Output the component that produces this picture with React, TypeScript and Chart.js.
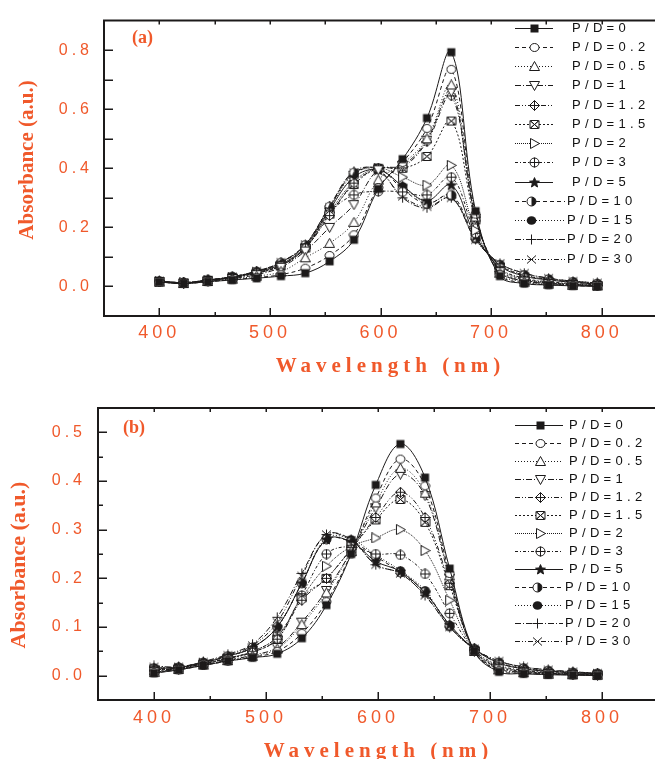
import React, { useEffect, useRef } from 'react';
import { Chart, registerables } from 'chart.js';

Chart.register(...registerables);

// ---------------- data ----------------
const WAVELENGTHS = [400, 422, 444, 466, 488, 510, 532, 554, 576, 598, 620, 642, 664, 686, 708, 730, 752, 774, 796];

const SERIES_LABELS = ['P/D=0', 'P/D=0.2', 'P/D=0.5', 'P/D=1', 'P/D=1.2', 'P/D=1.5', 'P/D=2', 'P/D=3', 'P/D=5', 'P/D=10', 'P/D=15', 'P/D=20', 'P/D=30'];

const X_TICK_LABELS = ['400', '500', '600', '700', '800'];
const A_Y_TICK_LABELS = ['0.0', '0.2', '0.4', '0.6', '0.8'];
const B_Y_TICK_LABELS = ['0.0', '0.1', '0.2', '0.3', '0.4', '0.5'];

// panel (a)
const A_PD0 = [0.015, 0.010, 0.016, 0.022, 0.028, 0.035, 0.045, 0.085, 0.158, 0.330, 0.431, 0.570, 0.793, 0.255, 0.035, 0.010, 0.005, 0.002, 0.000];
const A_PD0_2 = [0.015, 0.010, 0.016, 0.023, 0.030, 0.040, 0.062, 0.105, 0.175, 0.335, 0.420, 0.535, 0.735, 0.245, 0.040, 0.012, 0.006, 0.003, 0.001];
const A_PD0_5 = [0.015, 0.010, 0.017, 0.025, 0.035, 0.050, 0.097, 0.146, 0.217, 0.360, 0.415, 0.500, 0.682, 0.235, 0.045, 0.015, 0.008, 0.004, 0.002];
const A_PD1 = [0.016, 0.011, 0.018, 0.027, 0.040, 0.065, 0.120, 0.200, 0.277, 0.395, 0.410, 0.495, 0.660, 0.230, 0.050, 0.018, 0.010, 0.005, 0.002];
const A_PD1_2 = [0.016, 0.011, 0.020, 0.030, 0.045, 0.070, 0.130, 0.240, 0.350, 0.400, 0.405, 0.490, 0.645, 0.235, 0.050, 0.020, 0.011, 0.006, 0.003];
const A_PD1_5 = [0.016, 0.011, 0.020, 0.030, 0.045, 0.070, 0.130, 0.245, 0.345, 0.400, 0.400, 0.440, 0.560, 0.225, 0.055, 0.022, 0.012, 0.007, 0.003];
const A_PD2 = [0.017, 0.012, 0.020, 0.030, 0.047, 0.072, 0.130, 0.250, 0.355, 0.400, 0.370, 0.343, 0.410, 0.190, 0.060, 0.025, 0.014, 0.008, 0.004];
const A_PD3 = [0.017, 0.012, 0.020, 0.030, 0.047, 0.072, 0.130, 0.250, 0.310, 0.322, 0.320, 0.310, 0.370, 0.180, 0.062, 0.028, 0.016, 0.010, 0.005];
const A_PD5 = [0.018, 0.012, 0.021, 0.032, 0.050, 0.075, 0.135, 0.260, 0.370, 0.395, 0.340, 0.290, 0.343, 0.170, 0.070, 0.035, 0.022, 0.014, 0.008];
const A_PD10 = [0.018, 0.013, 0.022, 0.033, 0.050, 0.080, 0.140, 0.270, 0.385, 0.400, 0.330, 0.280, 0.310, 0.165, 0.072, 0.038, 0.024, 0.015, 0.009];
const A_PD15 = [0.018, 0.013, 0.022, 0.033, 0.050, 0.080, 0.140, 0.265, 0.380, 0.400, 0.339, 0.283, 0.305, 0.160, 0.075, 0.040, 0.025, 0.016, 0.010];
const A_PD20 = [0.019, 0.013, 0.022, 0.033, 0.052, 0.082, 0.142, 0.272, 0.390, 0.395, 0.300, 0.266, 0.300, 0.160, 0.078, 0.045, 0.028, 0.018, 0.012];
const A_PD30 = [0.019, 0.013, 0.022, 0.033, 0.052, 0.082, 0.142, 0.268, 0.385, 0.390, 0.305, 0.270, 0.300, 0.158, 0.078, 0.045, 0.028, 0.018, 0.012];

// panel (b)
const B_PD0 = [0.005, 0.012, 0.021, 0.030, 0.037, 0.045, 0.077, 0.145, 0.250, 0.392, 0.476, 0.407, 0.220, 0.050, 0.008, 0.004, 0.002, 0.001, 0.000];
const B_PD0_2 = [0.006, 0.012, 0.021, 0.030, 0.038, 0.050, 0.087, 0.152, 0.250, 0.365, 0.445, 0.390, 0.210, 0.050, 0.010, 0.005, 0.003, 0.002, 0.001];
const B_PD0_5 = [0.007, 0.013, 0.022, 0.031, 0.040, 0.055, 0.105, 0.170, 0.255, 0.355, 0.426, 0.375, 0.205, 0.050, 0.012, 0.006, 0.003, 0.002, 0.001];
const B_PD1 = [0.008, 0.013, 0.022, 0.032, 0.042, 0.058, 0.110, 0.175, 0.255, 0.345, 0.414, 0.370, 0.200, 0.050, 0.014, 0.007, 0.004, 0.002, 0.001];
const B_PD1_2 = [0.010, 0.015, 0.024, 0.035, 0.048, 0.075, 0.155, 0.200, 0.260, 0.325, 0.377, 0.325, 0.190, 0.052, 0.016, 0.008, 0.005, 0.003, 0.002];
const B_PD1_5 = [0.010, 0.015, 0.024, 0.035, 0.048, 0.075, 0.160, 0.200, 0.260, 0.320, 0.362, 0.315, 0.185, 0.052, 0.018, 0.009, 0.005, 0.003, 0.002];
const B_PD2 = [0.012, 0.015, 0.025, 0.036, 0.050, 0.080, 0.160, 0.225, 0.265, 0.283, 0.300, 0.257, 0.155, 0.052, 0.020, 0.010, 0.006, 0.004, 0.002];
const B_PD3 = [0.012, 0.016, 0.025, 0.036, 0.050, 0.080, 0.165, 0.250, 0.265, 0.250, 0.248, 0.209, 0.128, 0.053, 0.022, 0.011, 0.007, 0.004, 0.003];
const B_PD5 = [0.015, 0.017, 0.027, 0.040, 0.058, 0.100, 0.190, 0.280, 0.275, 0.235, 0.214, 0.170, 0.105, 0.055, 0.026, 0.014, 0.009, 0.006, 0.004];
const B_PD10 = [0.015, 0.017, 0.027, 0.040, 0.058, 0.100, 0.190, 0.280, 0.275, 0.245, 0.212, 0.172, 0.103, 0.055, 0.026, 0.015, 0.010, 0.006, 0.004];
const B_PD15 = [0.016, 0.017, 0.027, 0.040, 0.058, 0.100, 0.190, 0.283, 0.280, 0.248, 0.216, 0.175, 0.100, 0.055, 0.028, 0.016, 0.010, 0.007, 0.005];
const B_PD20 = [0.020, 0.018, 0.029, 0.044, 0.065, 0.120, 0.210, 0.290, 0.280, 0.228, 0.210, 0.165, 0.100, 0.055, 0.030, 0.018, 0.012, 0.008, 0.005];
const B_PD30 = [0.018, 0.018, 0.028, 0.042, 0.062, 0.110, 0.205, 0.290, 0.278, 0.228, 0.210, 0.165, 0.100, 0.055, 0.030, 0.018, 0.012, 0.008, 0.005];

const PANEL_A = [A_PD0, A_PD0_2, A_PD0_5, A_PD1, A_PD1_2, A_PD1_5, A_PD2, A_PD3, A_PD5, A_PD10, A_PD15, A_PD20, A_PD30];
const PANEL_B = [B_PD0, B_PD0_2, B_PD0_5, B_PD1, B_PD1_2, B_PD1_5, B_PD2, B_PD3, B_PD5, B_PD10, B_PD15, B_PD20, B_PD30];

const MARKERS = ['square', 'circle', 'triUp', 'triDown', 'diamondPlus', 'bowtie', 'triRight', 'circlePlus', 'star', 'halfCircle', 'ball', 'plus', 'cross'];
const DASHES: number[][] = [[], [4, 3], [1, 2], [6, 2, 1, 2], [5, 2, 1, 2, 1, 2], [2, 2], [1, 1], [3, 2, 1, 2], [], [4, 3], [1, 2], [6, 2, 1, 2], [5, 2, 1, 2, 1, 2]];

// ---------------- styles ----------------
const ORANGE = '#f0592b';
const INK = '#1c1a1a';
const SANS = "'Liberation Sans', Arial, sans-serif";
const SERIF = "'Liberation Serif', 'Times New Roman', serif";
const CANVAS_W = 665;

function makeMarker(kind: string): HTMLCanvasElement {
  const S = 11;
  const c = document.createElement('canvas');
  c.width = S;
  c.height = S;
  const g = c.getContext('2d')!;
  g.lineWidth = 1;
  g.strokeStyle = INK;
  const m = 5.5;
  const poly = (pts: number[][], fill: string) => {
    g.beginPath();
    pts.forEach(([x, y], i) => (i ? g.lineTo(x, y) : g.moveTo(x, y)));
    g.closePath();
    g.fillStyle = fill;
    g.fill();
    g.stroke();
  };
  const line = (x1: number, y1: number, x2: number, y2: number) => {
    g.beginPath();
    g.moveTo(x1, y1);
    g.lineTo(x2, y2);
    g.stroke();
  };
  switch (kind) {
    case 'square':
      g.fillStyle = INK;
      g.fillRect(1.5, 1.5, 8, 8);
      break;
    case 'circle':
      g.beginPath();
      g.ellipse(m, m, 4.5, 4, 0, 0, Math.PI * 2);
      g.fillStyle = '#fff';
      g.fill();
      g.stroke();
      break;
    case 'triUp':
      poly([[m, 0.5], [10.5, 9.5], [0.5, 9.5]], '#fff');
      break;
    case 'triDown':
      poly([[0.5, 1.5], [10.5, 1.5], [m, 10.5]], '#fff');
      break;
    case 'triRight':
      poly([[1.5, 0.5], [10.5, m], [1.5, 10.5]], '#fff');
      break;
    case 'diamondPlus':
      poly([[m, 0.5], [10.5, m], [m, 10.5], [0.5, m]], '#fff');
      line(m, 0.5, m, 10.5);
      line(0.5, m, 10.5, m);
      break;
    case 'bowtie':
      poly([[1, 1.5], [m, m], [1, 9.5]], '#fff');
      poly([[10, 1.5], [m, m], [10, 9.5]], '#fff');
      line(1, 1.5, 10, 9.5);
      line(10, 1.5, 1, 9.5);
      line(2, 1.5, 9, 1.5);
      line(2, 9.5, 9, 9.5);
      break;
    case 'circlePlus':
      g.beginPath();
      g.arc(m, m, 4.5, 0, Math.PI * 2);
      g.fillStyle = '#fff';
      g.fill();
      g.stroke();
      line(m, 0.5, m, 10.5);
      line(0.5, m, 10.5, m);
      break;
    case 'star': {
      g.beginPath();
      for (let k = 0; k < 10; k++) {
        const r = k % 2 === 0 ? 5.2 : 2.3;
        const a = -Math.PI / 2 + (k * Math.PI) / 5;
        const x = m + r * Math.cos(a);
        const y = m + 0.3 + r * Math.sin(a);
        if (k === 0) g.moveTo(x, y);
        else g.lineTo(x, y);
      }
      g.closePath();
      g.fillStyle = INK;
      g.fill();
      g.stroke();
      break;
    }
    case 'halfCircle':
      g.beginPath();
      g.arc(m, m, 4.5, 0, Math.PI * 2);
      g.fillStyle = '#fff';
      g.fill();
      g.stroke();
      g.beginPath();
      g.arc(m, m, 4.5, -Math.PI / 2, Math.PI / 2);
      g.closePath();
      g.fillStyle = INK;
      g.fill();
      break;
    case 'ball':
      g.beginPath();
      g.ellipse(m, m, 4.8, 4.3, 0, 0, Math.PI * 2);
      g.fillStyle = INK;
      g.fill();
      break;
    case 'plus':
      line(m, 0.5, m, 10.5);
      line(0.5, m, 10.5, m);
      break;
    case 'cross':
      line(1, 1.5, 10, 9.5);
      line(10, 1.5, 1, 9.5);
      break;
  }
  return c;
}

function spacedText(
  ctx: CanvasRenderingContext2D,
  text: string,
  x: number,
  y: number,
  font: string,
  color: string,
  spacing: number,
  align: 'left' | 'center' | 'right'
) {
  ctx.save();
  ctx.font = font;
  (ctx as any).letterSpacing = '0px';
  const natural = ctx.measureText(text).width;
  const vis = natural + spacing * (text.length - 1);
  (ctx as any).letterSpacing = spacing + 'px';
  ctx.fillStyle = color;
  ctx.textBaseline = 'middle';
  ctx.textAlign = 'left';
  const sx = align === 'left' ? x : align === 'center' ? x - vis / 2 : x - vis;
  ctx.fillText(text, sx, y);
  ctx.restore();
}

type PanelCfg = {
  top: number;
  height: number;
  padTop: number;
  padRight: number;
  yAxisWidth: number;
  xAxisHeight: number;
  yMin: number;
  yMax: number;
  yStep: number;
  yLabels: string[];
  yPad: number;
  xPad: number;
  yMajorEvery: number;
  legendY0: number;
  legendStep: number;
  legendLineEnd: number;
  legendMarkerX: number;
  legendTextX: number;
  legendTextXShort: number;
  yTitle: { x: number; y: number; size: number };
  xTitle: { x: number; y: number; size: number };
  panelLabel: { text: string; x: number; y: number };
};

const CFG_A: PanelCfg = {
  top: 0,
  height: 385,
  padTop: 13,
  padRight: 8,
  yAxisWidth: 104,
  xAxisHeight: 69,
  yMin: -0.1,
  yMax: 0.9,
  yStep: 0.1,
  yLabels: A_Y_TICK_LABELS,
  yPad: 11,
  xPad: 6,
  yMajorEvery: 0.1,
  legendY0: 27.5,
  legendStep: 19.25,
  legendLineEnd: 553,
  legendMarkerX: 534,
  legendTextX: 572,
  legendTextXShort: 567,
  yTitle: { x: 28, y: 160, size: 21 },
  xTitle: { x: 388, y: 367, size: 21 },
  panelLabel: { text: '(a)', x: 142.5, y: 38 },
};

const CFG_B: PanelCfg = {
  top: 385,
  height: 374,
  padTop: 23,
  padRight: 3,
  yAxisWidth: 98,
  xAxisHeight: 59,
  yMin: -0.05,
  yMax: 0.55,
  yStep: 0.05,
  yLabels: B_Y_TICK_LABELS,
  yPad: 12,
  xPad: 7,
  yMajorEvery: 0.1,
  legendY0: 40,
  legendStep: 18,
  legendLineEnd: 563,
  legendMarkerX: 540,
  legendTextX: 569,
  legendTextXShort: 565,
  yTitle: { x: 19, y: 180, size: 22 },
  xTitle: { x: 376, y: 367, size: 21 },
  panelLabel: { text: '(b)', x: 134, y: 43 },
};

function isMultiple(v: number, step: number) {
  const q = v / step;
  return Math.abs(q - Math.round(q)) < 1e-6;
}

function Panel({ series, cfg }: { series: number[][]; cfg: PanelCfg }) {
  const ref = useRef<HTMLCanvasElement | null>(null);

  useEffect(() => {
    const canvas = ref.current;
    if (!canvas) return;
    const markers = MARKERS.map(makeMarker);

    const decor = {
      id: 'decor',
      beforeDraw(chart: any) {
        chart.ctx.letterSpacing = '4px';
      },
      beforeDatasetsDraw(chart: any) {
        chart.ctx.letterSpacing = '0px';
      },
      afterDraw(chart: any) {
        const ctx: CanvasRenderingContext2D = chart.ctx;
        const xs = chart.scales.x;
        const ys = chart.scales.y;
        const { left, top, bottom } = chart.chartArea;
        ctx.save();
        (ctx as any).letterSpacing = '0px';
        ctx.setLineDash([]);
        ctx.strokeStyle = INK;
        // top frame line
        ctx.lineWidth = 2;
        ctx.beginPath();
        ctx.moveTo(left - 1, top);
        ctx.lineTo(chart.width, top);
        ctx.stroke();
        // inward ticks
        ctx.lineWidth = 1.5;
        ctx.beginPath();
        xs.ticks.forEach((t: any) => {
          const v = t.value;
          if (v <= xs.min || v >= xs.max) return;
          const px = Math.round(xs.getPixelForValue(v)) + 0.25;
          const major = isMultiple(v, 100);
          ctx.moveTo(px, bottom);
          ctx.lineTo(px, bottom - (major ? 8 : 4));
          ctx.moveTo(px, top);
          ctx.lineTo(px, top + 4);
        });
        ys.ticks.forEach((t: any) => {
          const v = t.value;
          if (v <= ys.min + 1e-9 || v >= ys.max - 1e-9) return;
          const py = Math.round(ys.getPixelForValue(v)) + 0.25;
          const major = isMultiple(v, cfg.yMajorEvery);
          ctx.moveTo(left, py);
          ctx.lineTo(left + (major ? 9 : 5), py);
        });
        ctx.stroke();
        ctx.restore();

        // axis titles
        ctx.save();
        ctx.translate(cfg.yTitle.x, cfg.yTitle.y);
        ctx.rotate(-Math.PI / 2);
        spacedText(ctx, 'Absorbance (a.u.)', 0, 0, `bold ${cfg.yTitle.size}px ${SERIF}`, ORANGE, 0, 'center');
        ctx.restore();
        spacedText(ctx, 'Wavelength (nm)', cfg.xTitle.x, cfg.xTitle.y, `bold ${cfg.xTitle.size}px ${SERIF}`, ORANGE, 5, 'center');
        spacedText(ctx, cfg.panelLabel.text, cfg.panelLabel.x, cfg.panelLabel.y, `bold 18px ${SERIF}`, ORANGE, 0, 'center');

        // legend
        chart.data.datasets.forEach((ds: any, i: number) => {
          const y = cfg.legendY0 + i * cfg.legendStep;
          const short = ds.label.length === 6;
          const tx = short ? cfg.legendTextXShort : cfg.legendTextX;
          const lineEnd = short ? tx - 2 : cfg.legendLineEnd;
          ctx.save();
          ctx.strokeStyle = INK;
          ctx.lineWidth = 1;
          ctx.setLineDash(ds.borderDash || []);
          ctx.beginPath();
          ctx.moveTo(515, Math.round(y) + 0.5);
          ctx.lineTo(lineEnd, Math.round(y) + 0.5);
          ctx.stroke();
          ctx.restore();
          const mk = markers[i];
          const mx = short ? cfg.legendMarkerX - 3 : cfg.legendMarkerX;
          ctx.drawImage(mk, Math.round(mx - mk.width / 2), Math.round(y - mk.height / 2 + 0.5));
          spacedText(ctx, ds.label, tx, y + 0.5, `13px ${SANS}`, '#111', 4.3, 'left');
        });
      },
    };

    const chart = new Chart(canvas, {
      type: 'line',
      data: {
        datasets: series.map((vals, i) => ({
          label: SERIES_LABELS[i],
          data: WAVELENGTHS.map((w, j) => ({ x: w, y: vals[j] })),
          borderColor: INK,
          backgroundColor: INK,
          borderWidth: 1,
          borderDash: DASHES[i],
          pointStyle: markers[i] as any,
          pointRadius: 4.5,
          tension: 0.38,
          fill: false,
        })),
      },
      options: {
        responsive: false,
        animation: false,
        devicePixelRatio: 1,
        events: [],
        layout: { padding: { top: cfg.padTop, right: cfg.padRight, left: 0, bottom: 0 } },
        plugins: { legend: { display: false }, tooltip: { enabled: false } },
        scales: {
          x: {
            type: 'linear',
            min: 350,
            max: 850,
            afterFit: (s: any) => {
              s.height = cfg.xAxisHeight;
            },
            grid: { display: false, drawTicks: false },
            border: { display: true, color: INK, width: 2 },
            ticks: {
              stepSize: 50,
              autoSkip: false,
              maxRotation: 0,
              padding: cfg.xPad,
              color: ORANGE,
              font: { family: SANS, size: 18 },
              callback: (v: any) => {
                const s = String(Math.round(Number(v)));
                return X_TICK_LABELS.includes(s) && isMultiple(Number(v), 100) ? s : '';
              },
            },
          },
          y: {
            type: 'linear',
            min: cfg.yMin,
            max: cfg.yMax,
            afterFit: (s: any) => {
              s.width = cfg.yAxisWidth;
            },
            grid: { display: false, drawTicks: false },
            border: { display: true, color: INK, width: 2 },
            ticks: {
              stepSize: cfg.yStep,
              autoSkip: false,
              padding: cfg.yPad,
              color: ORANGE,
              font: { family: SANS, size: 16 },
              callback: (v: any) => {
                const n = Number(v);
                if (!isMultiple(n, 0.1)) return '';
                const s = (Math.round(n * 10) / 10).toFixed(1);
                return cfg.yLabels.includes(s) ? s : '';
              },
            },
          },
        },
      },
      plugins: [decor],
    } as any);

    return () => chart.destroy();
  }, [series, cfg]);

  return (
    <canvas
      ref={ref}
      width={CANVAS_W}
      height={cfg.height}
      style={{ position: 'absolute', left: 0, top: cfg.top, width: CANVAS_W, height: cfg.height, display: 'block' }}
    />
  );
}

export default function App() {
  return (
    <div
      style={{
        position: 'absolute',
        left: 0,
        top: 0,
        width: 655,
        height: 759,
        overflow: 'hidden',
        background: '#fff',
      }}
    >
      <Panel series={PANEL_A} cfg={CFG_A} />
      <Panel series={PANEL_B} cfg={CFG_B} />
    </div>
  );
}
